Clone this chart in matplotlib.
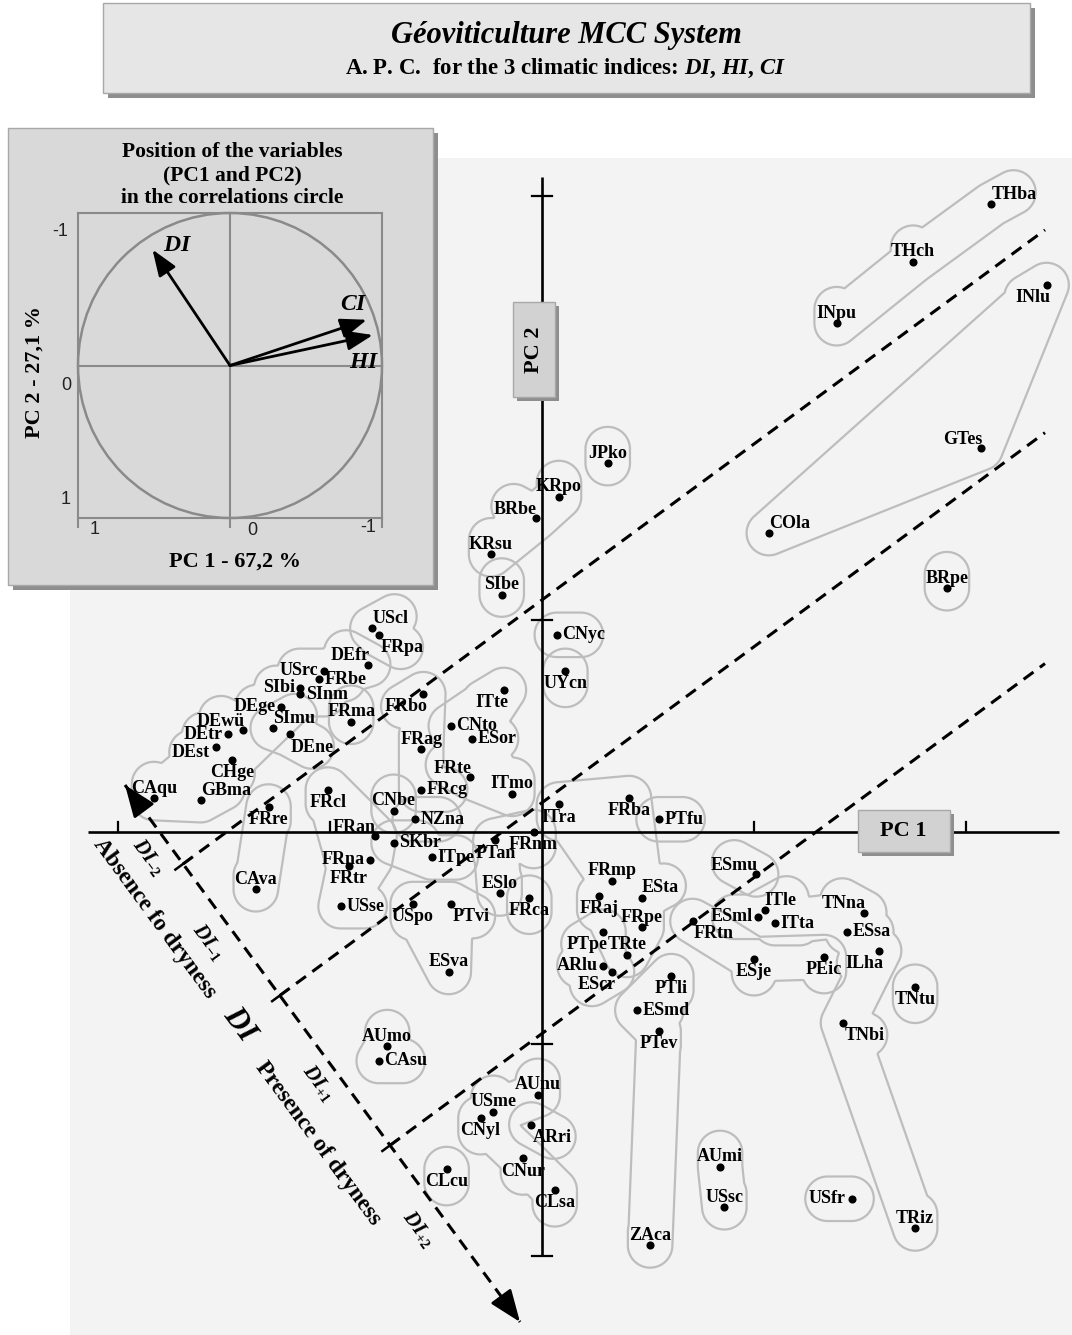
import numpy as np
import matplotlib
matplotlib.use("Agg")
import matplotlib.pyplot as plt
from matplotlib.patches import Rectangle, Circle
from matplotlib.path import Path

plt.rcParams['font.family'] = ['Liberation Serif', 'DejaVu Serif']
plt.rcParams['mathtext.fontset'] = 'custom'
plt.rcParams['mathtext.rm'] = 'Liberation Serif:bold'
plt.rcParams['mathtext.it'] = 'Liberation Serif:italic:bold'
plt.rcParams['mathtext.bf'] = 'Liberation Serif:bold'

W, H = 1072, 1335
S = 212.0            # pixels per PC unit on the map
OX, OY = 542, 832    # pixel position of the PC origin

# site scores on PC1 / PC2
sites = ["THba", "THch", "INpu", "INlu", "GTes", "COla", "BRpe",
         "JPko", "KRpo", "BRbe", "KRsu", "SIbe", "CNyc", "UYcn",
         "UScl", "FRpa", "DEfr", "USrc", "FRbe", "SIbi", "SInm", "DEge", "FRma", "FRbo",
         "DEwü", "SImu", "DEtr", "DEne", "DEst", "CHge", "CAqu", "GBma",
         "FRag", "CNto", "ITte", "ESor", "FRte", "ITmo", "FRcg", "FRcl", "CNbe", "NZna",
         "FRre", "FRan", "SKbr", "ITpe", "PTan", "FRnm", "FRna", "FRtr", "CAva", "USse",
         "USpo", "PTvi", "ESlo", "FRca", "ESva",
         "ITra", "FRba", "PTfu", "FRmp", "ESta", "FRaj", "FRpe", "PTpe", "TRte", "ARlu", "EScr",
         "PTli", "ESmd", "PTev", "FRtn",
         "ESmu", "ESml", "ITle", "ITta", "TNna", "ESsa", "ILha", "PEic", "ESje", "TNtu", "TNbi",
         "AUmo", "CAsu", "AUnu", "USme", "CNyl", "ARri", "CNur", "CLsa", "CLcu",
         "AUmi", "USsc", "USfr", "TRiz", "ZAca"]
pc1 = [2.12, 1.75, 1.39, 2.38, 2.07, 1.07, 1.91,
       0.31, 0.08, -0.03, -0.24, -0.19, 0.07, 0.11,
       -0.80, -0.77, -0.82, -1.03, -1.05, -1.14, -1.14, -1.23, -0.90, -0.56,
       -1.41, -1.27, -1.48, -1.19, -1.54, -1.46, -1.83, -1.61,
       -0.57, -0.43, -0.18, -0.33, -0.34, -0.14, -0.57, -1.01, -0.70, -0.60,
       -1.29, -0.79, -0.70, -0.52, -0.22, -0.04, -0.81, -0.91, -1.35, -0.95,
       -0.61, -0.43, -0.20, -0.06, -0.44,
       0.08, 0.41, 0.55, 0.33, 0.47, 0.27, 0.47, 0.29, 0.40, 0.29, 0.33,
       0.61, 0.45, 0.55, 0.71,
       1.01, 1.02, 1.05, 1.10, 1.52, 1.44, 1.59, 1.33, 1.00, 1.76, 1.42,
       -0.73, -0.77, -0.02, -0.23, -0.29, -0.05, -0.09, 0.06, -0.45,
       0.84, 0.86, 1.46, 1.76, 0.51]
pc2 = [2.96, 2.69, 2.40, 2.58, 1.81, 1.41, 1.15,
       1.74, 1.58, 1.48, 1.31, 1.12, 0.93, 0.76,
       0.96, 0.93, 0.79, 0.76, 0.72, 0.68, 0.65, 0.59, 0.52, 0.65,
       0.48, 0.49, 0.46, 0.46, 0.40, 0.34, 0.16, 0.15,
       0.39, 0.50, 0.67, 0.44, 0.26, 0.18, 0.20, 0.20, 0.10, 0.06,
       0.12, -0.02, -0.05, -0.12, -0.04, 0.00, -0.13, -0.16, -0.27, -0.35,
       -0.34, -0.34, -0.29, -0.31, -0.66,
       0.13, 0.16, 0.06, -0.23, -0.31, -0.30, -0.45, -0.47, -0.58, -0.63, -0.66,
       -0.68, -0.84, -0.94, -0.42,
       -0.20, -0.40, -0.37, -0.43, -0.38, -0.47, -0.56, -0.59, -0.60, -0.73, -0.90,
       -1.01, -1.08, -1.24, -1.32, -1.35, -1.38, -1.54, -1.69, -1.59,
       -1.58, -1.77, -1.73, -1.87, -1.95]

# which side of the dot each code is written
label_side = {
    "THba": "ar", "THch": "a", "INpu": "a", "INlu": "bl", "GTes": "al", "COla": "ar", "BRpe": "a",
    "JPko": "a", "KRpo": "a", "BRbe": "al", "KRsu": "a", "SIbe": "a", "CNyc": "r", "UYcn": "b",
    "UScl": "ar", "FRpa": "br", "DEfr": "al", "USrc": "l", "FRbe": "r", "SIbi": "l", "SInm": "r",
    "DEge": "l", "FRma": "a", "FRbo": "bl", "DEwü": "al", "SImu": "ar", "DEtr": "l", "DEne": "br",
    "DEst": "ll", "CHge": "b", "CAqu": "a", "GBma": "ar", "FRag": "a", "CNto": "r", "ITte": "bl",
    "ESor": "r", "FRte": "al", "ITmo": "a", "FRcg": "r", "FRcl": "b", "CNbe": "a", "NZna": "r",
    "FRre": "b", "FRan": "al", "SKbr": "r", "ITpe": "r", "PTan": "b", "FRnm": "b", "FRna": "l",
    "FRtr": "b", "CAva": "a", "USse": "r", "USpo": "b", "PTvi": "br", "ESlo": "a", "FRca": "b",
    "ESva": "a", "ITra": "b", "FRba": "b", "PTfu": "r", "FRmp": "a", "ESta": "ar", "FRaj": "b",
    "FRpe": "a", "PTpe": "bl", "TRte": "a", "ARlu": "l", "EScr": "bl", "PTli": "b", "ESmd": "r",
    "PTev": "b", "FRtn": "br", "ESmu": "al", "ESml": "l", "ITle": "ar", "ITta": "r", "TNna": "al",
    "ESsa": "r", "ILha": "bl", "PEic": "b", "ESje": "b", "TNtu": "b", "TNbi": "br", "AUmo": "a",
    "CAsu": "r", "AUnu": "a", "USme": "a", "CNyl": "b", "ARri": "br", "CNur": "b", "CLsa": "b",
    "CLcu": "b", "AUmi": "a", "USsc": "a", "USfr": "l", "TRiz": "a", "ZAca": "a",
}

# groups circled on the map (ordered outline, closed or not)
clusters = [
    (["INpu", "THch", "THba"], False),
    (["COla", "GTes", "INlu"], True),
    (["BRpe"], False), (["JPko"], False),
    (["KRsu", "BRbe", "KRpo"], True),
    (["SIbe"], False), (["CNyc"], False), (["UYcn"], False),
    (["UScl", "FRpa"], False),
    (["CAqu", "DEst", "DEtr", "DEwü", "DEge", "SIbi", "USrc", "DEfr", "FRbe", "SInm", "CHge", "GBma"], True),
    (["SImu", "DEne"], False), (["FRma"], False),
    (["FRbo", "FRag", "FRcg"], False),
    (["ITte", "CNto", "FRte", "ITmo", "ESor"], True),
    (["CNbe"], False), (["NZna"], False),
    (["FRre", "CAva"], False),
    (["FRcl", "FRan", "FRna", "USse", "FRtr"], True),
    (["SKbr", "ITpe"], False),
    (["FRnm", "PTan", "ESlo"], False), (["FRca"], False),
    (["USpo", "PTvi", "ESva"], True),
    (["ITra", "FRba", "ESta", "FRpe", "TRte", "FRaj", "FRmp"], True),
    (["PTpe", "ARlu", "EScr"], False), (["PTfu"], False),
    (["PTli", "ESmd", "PTev", "ZAca"], False),
    (["ESmu"], False),
    (["ESml", "ITle", "ITta", "TNna", "ESsa", "ILha", "TNbi", "TRiz"], False),
    (["FRtn", "ESje", "PEic"], False), (["TNtu"], False),
    (["AUmo", "CAsu"], False),
    (["AUnu", "USme", "CNyl", "CNur", "CLsa"], False),
    (["ARri"], False), (["CLcu"], False),
    (["AUmi", "USsc"], False), (["USfr"], False),
]

# correlation circle
variables = ["DI", "HI", "CI"]
load1 = [0.51, -0.94, -0.90]
load2 = [-0.76, -0.20, -0.30]
pct1, pct2 = "67,2", "27,1"

# DI classes along the dryness axis
di_breaks = [0.147, 0.392, 0.671]

side_fmt = {
    "r": (4, 0, "left", "center"), "l": (-4, 0, "right", "center"),
    "ll": (-4, -4, "right", "center"),
    "a": (0, 4, "center", "baseline"), "b": (0, -3, "center", "top"),
    "ar": (0, 4, "left", "baseline"), "al": (1, 3, "right", "baseline"),
    "br": (1, -3, "left", "top"), "bl": (3, -3, "right", "top"),
}
label_centre = {  # rough label centre relative to dot, pixels (y down)
    "r": (24, 0), "l": (-24, 0), "ll": (-24, 5), "a": (0, -14), "b": (0, 14),
    "ar": (22, -12), "al": (-22, -12), "br": (22, 12), "bl": (-20, 12),
}

GRID = '#bdbdbd'


def F(x, y):
    return x / W, 1 - y / H


def P(x, y):
    return (x - OX) / S, (OY - y) / S


def seg_dist(gx, gy, a, b):
    dx, dy = b[0] - a[0], b[1] - a[1]
    l2 = dx * dx + dy * dy
    if l2 == 0:
        return np.hypot(gx - a[0], gy - a[1])
    t = np.clip(((gx - a[0]) * dx + (gy - a[1]) * dy) / l2, 0, 1)
    return np.hypot(gx - a[0] - t * dx, gy - a[1] - t * dy)


def outline(ax, names, closed, pad=0.105):
    idx = [sites.index(n) for n in names]
    pts = [(pc1[i], pc2[i]) for i in idx]
    segs = list(zip(pts[:-1], pts[1:]))
    if closed and len(pts) > 2:
        segs.append((pts[-1], pts[0]))
    for p, n in zip(pts, names):
        dx, dy = label_centre[label_side[n]]
        segs.append((p, (p[0] + dx / S, p[1] - dy / S)))
    allp = np.array([q for s in segs for q in s])
    lo = allp.min(0) - pad - 0.05
    hi = allp.max(0) + pad + 0.05
    gx, gy = np.meshgrid(np.arange(lo[0], hi[0], 0.006), np.arange(lo[1], hi[1], 0.006))
    d = np.full(gx.shape, np.inf)
    for a, b in segs:
        d = np.minimum(d, seg_dist(gx, gy, a, b))
    if closed and len(pts) > 2:
        inside = Path(pts).contains_points(np.c_[gx.ravel(), gy.ravel()]).reshape(gx.shape)
        d[inside] = 0
    ax.contour(gx, gy, d, levels=[pad], colors=GRID, linewidths=1.6, zorder=1)


def box(target, x0, y0, x1, y1, fc, z, shadow=5):
    tr = fig.transFigure
    sh = Rectangle(F(x0 + shadow, y1 + shadow), (x1 - x0) / W, (y1 - y0) / H,
                   transform=tr, fc='#8e8e8e', ec='none', zorder=z - 0.1)
    bx = Rectangle(F(x0, y1), (x1 - x0) / W, (y1 - y0) / H,
                   transform=tr, fc=fc, ec='#a8a8a8', lw=1.0, zorder=z)
    if target is fig:
        fig.add_artist(sh)
        fig.add_artist(bx)
    else:
        target.add_patch(sh)
        target.add_patch(bx)


fig = plt.figure(figsize=(W / 100, H / 100), dpi=100)
fig.patch.set_facecolor('white')
ax = fig.add_axes([0, 0, 1, 1])
ax.set_xlim(-OX / S, (W - OX) / S)
ax.set_ylim((OY - H) / S, OY / S)
ax.axis('off')

# map panel
ax.add_patch(Rectangle(F(70, 1335), (W - 70) / W, (1335 - 158) / H,
                       transform=fig.transFigure, fc='#f3f3f3', ec='none', zorder=0))

# PC axes
ax.plot([-2.14, 2.44], [0, 0], color='black', lw=1.9, zorder=2, solid_capstyle='butt')
ax.plot([0, 0], [-2.0, 3.09], color='black', lw=1.9, zorder=2, solid_capstyle='butt')
for t in [-2, -1, 1, 2]:
    ax.plot([t, t], [0, 0.047], color='black', lw=1.6, zorder=2)
for t in [-2, -1, 1, 3]:
    ax.plot([-0.045, 0.045], [t, t], color='black', lw=1.6, zorder=2)

# cluster outlines
for names, closed in clusters:
    outline(ax, names, closed)

# DI axis and class limits
head = np.array(P(125, 785))
tail = np.array(P(520, 1322))
u = tail - head
ax.plot([head[0], tail[0]], [head[1], tail[1]], color='black', lw=2.2,
        ls=(0, (4, 2.6)), zorder=3)
for a, b in [(tail, head), (head, tail)]:
    ax.annotate('', xy=b, xytext=b - 0.12 * (b - a) / np.hypot(*(b - a)),
                arrowprops=dict(arrowstyle='-|>,head_length=0.9,head_width=0.35',
                                color='black', lw=2, mutation_scale=22,
                                shrinkA=0, shrinkB=0), zorder=3)
perp = np.array([-u[1], u[0]])
if perp[0] < 0:
    perp = -perp
perp = perp / np.hypot(*perp)
x_end = P(1045, 0)[0]
for f in di_breaks:
    p0 = head + f * u
    k = (x_end - p0[0]) / perp[0]
    p1 = p0 + k * perp
    ax.plot([p0[0], p1[0]], [p0[1], p1[1]], color='black', lw=2.2,
            ls=(0, (4, 2.6)), zorder=3)
    c0, c1 = p0 - 0.045 * perp, p0 + 0.045 * perp
    ax.plot([c0[0], c1[0]], [c0[1], c1[1]], color='black', lw=1.8, zorder=3)

rot = np.degrees(np.arctan2(u[1], u[0]))
di_text = [((148, 857), r'$DI_{-2}$', 15), ((155, 918), 'Absence fo dryness', 17),
           ((208, 942), r'$DI_{-1}$', 15), ((240, 1025), r'$DI$', 22),
           ((318, 1083), r'$DI_{+1}$', 15), ((318, 1143), 'Presence of dryness', 17),
           ((418, 1229), r'$DI_{+2}$', 15)]
for (x, y), s, fs in di_text:
    ax.text(*P(x, y), s, rotation=rot, rotation_mode='anchor', ha='center', va='center',
            fontsize=fs, fontweight='bold', zorder=4)

# sites
ax.scatter(pc1, pc2, s=34, color='black', zorder=5, linewidths=0)
for name, x, y in zip(sites, pc1, pc2):
    dx, dy, ha, va = side_fmt[label_side[name]]
    ax.annotate(name, (x, y), xytext=(dx, dy), textcoords='offset points',
                ha=ha, va=va, fontsize=13, fontweight='bold', zorder=6)

# PC name boxes
box(ax, 513, 302, 555, 397, '#d2d2d2', 7, shadow=4)
ax.text(*P(534, 350), 'PC 2', rotation=90, ha='center', va='center',
        fontsize=16, fontweight='bold', zorder=8)
box(ax, 858, 810, 950, 852, '#d2d2d2', 7, shadow=4)
ax.text(*P(903, 831), 'PC 1', ha='center', va='center', fontsize=16,
        fontweight='bold', zorder=8)

# title
box(fig, 103, 3, 1030, 93, '#e6e6e6', 3, shadow=5)
fig.text(*F(566, 35), 'Géoviticulture MCC System', ha='center', va='center',
         fontsize=22, fontweight='bold', fontstyle='italic', zorder=4)
fig.text(*F(566, 68), 'A. P. C.  for the 3 climatic indices: $DI$, $HI$, $CI$',
         ha='center', va='center', fontsize=16.5, fontweight='bold', zorder=4)

# correlation circle panel
box(fig, 8, 128, 433, 585, '#d9d9d9', 3, shadow=5)
for y, s in [(152, 'Position of the variables'), (175, '(PC1 and PC2)'),
             (198, 'in the correlations circle')]:
    fig.text(*F(232, y), s, ha='center', va='center', fontsize=15.5,
             fontweight='bold', zorder=4)
fig.text(*F(235, 562), f'PC 1 - {pct1} %', ha='center', va='center',
         fontsize=16, fontweight='bold', zorder=4)
fig.text(*F(35, 372), f'PC 2 - {pct2} %', ha='center', va='center', rotation=90,
         fontsize=16, fontweight='bold', zorder=4)
for (x, y), s in [((60, 232), '-1'), ((66, 386), '0'), ((66, 500), '1'),
                  ((95, 529), '1'), ((252, 530), '0'), ((368, 527), '-1')]:
    fig.text(*F(x, y), s, ha='center', va='center', fontsize=13,
             family=['Liberation Sans', 'DejaVu Sans'], color='#222222', zorder=4)

ins = fig.add_axes([78 / W, 1 - 518 / H, 304 / W, 305 / H], zorder=5)
ins.set_xlim(1, -1)
ins.set_ylim(1, -1)
ins.set_facecolor('#d9d9d9')
for sp in ins.spines.values():
    sp.set_color('#8a8a8a')
    sp.set_linewidth(1.5)
ins.set_xticks([1, 0, -1])
ins.set_xticklabels([])
ins.set_yticks([])
ins.tick_params(axis='x', direction='out', length=7, width=1.5, color='#8a8a8a')
ins.add_patch(Circle((0, 0), 1, fill=False, ec='#8a8a8a', lw=1.8, clip_on=False))
ins.axhline(0, color='#8a8a8a', lw=1.5)
ins.axvline(0, color='#8a8a8a', lw=1.5)
var_offset = {"DI": (18, 3), "HI": (-6, -20), "CI": (-9, 11)}
for v, l1, l2 in zip(variables, load1, load2):
    ins.annotate('', xy=(l1, l2), xytext=(0, 0),
                 arrowprops=dict(arrowstyle='-|>,head_length=0.8,head_width=0.3',
                                 color='black', lw=2, mutation_scale=20,
                                 shrinkA=0, shrinkB=0))
    ins.annotate(f'${v}$', (l1, l2), xytext=var_offset[v], textcoords='offset points',
                 ha='center', va='center', fontsize=17)

fig.savefig('out.png', dpi=100)
